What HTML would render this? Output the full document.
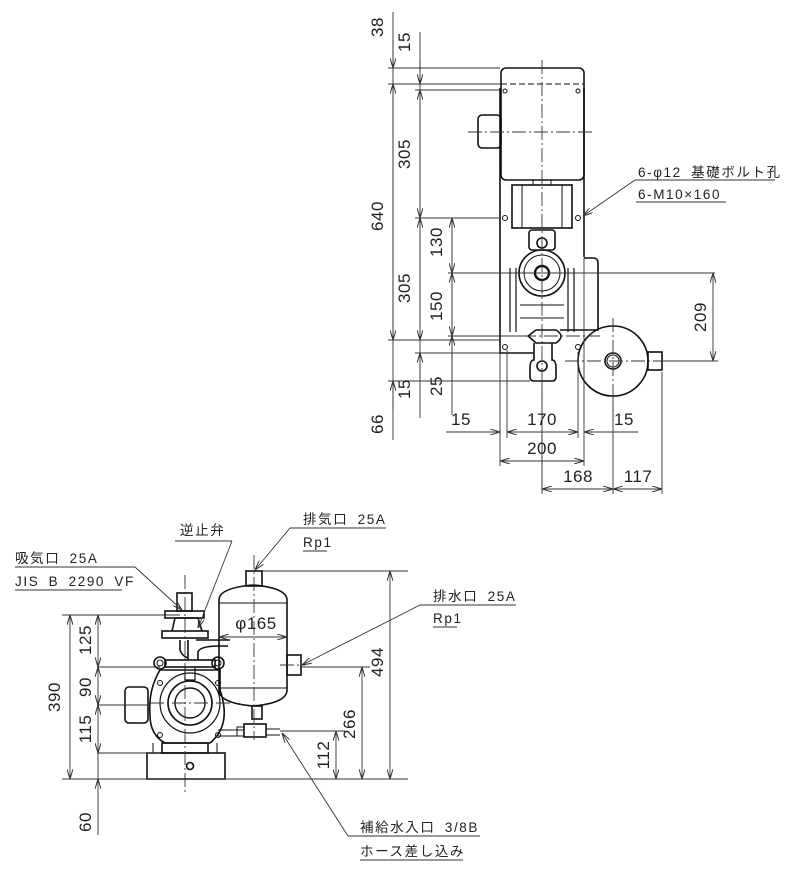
<!DOCTYPE html>
<html><head><meta charset="utf-8"><style>
html,body{margin:0;padding:0;background:#fff}
svg{display:block}
text{font-family:"Liberation Sans","Noto Sans CJK JP",sans-serif;fill:#222}
.d{font-size:17px;letter-spacing:0.5px}
.l{font-size:13.5px;letter-spacing:1.6px;word-spacing:4px}
</style></head><body>
<svg width="800" height="887" viewBox="0 0 800 887" xmlns="http://www.w3.org/2000/svg">
<defs>
<marker id="a" viewBox="0 0 10 6" refX="10" refY="3" markerWidth="10" markerHeight="6" orient="auto-start-reverse" markerUnits="userSpaceOnUse"><path d="M0,0 L10,3 L0,6" fill="none" stroke="#333" stroke-width="1"/></marker>
</defs>
<g fill="none" stroke="#111" stroke-width="1.6">
<rect x="501" y="68" width="83" height="112" rx="5"/>
<line x1="501" y1="84" x2="584" y2="84" stroke-dasharray="6,3" stroke-width="1"/>
<rect x="478" y="115" width="23" height="33" rx="4"/>
<path d="M500,88 V353 H534 M584,88 V257"/>
<rect x="512" y="185" width="60" height="43"/>
<line x1="522" y1="185" x2="522" y2="228" stroke-width="1"/><line x1="562" y1="185" x2="562" y2="228" stroke-width="1"/>
<rect x="533" y="180" width="18" height="5" stroke-width="1"/>
<rect x="529" y="230" width="26" height="20" rx="3"/>
<circle cx="542" cy="243" r="5"/>
<circle cx="542" cy="273" r="23"/><circle cx="542" cy="273" r="18" stroke-width="1"/>
<circle cx="542" cy="273" r="7" stroke-width="2.4"/>
<path d="M510,268 V332 M516,268 V332 M568,268 V332 M574,268 V332" stroke-width="1.2"/>
<path d="M520,305 H564 M520,318 H564" stroke-width="1"/>
<path d="M584,258 H593 Q598,258 598,263 V330 H560" stroke-width="1.6"/>
<path d="M528,336 L536,330 H556 Q566,336 556,343 H536 Z"/>
<path d="M534,343 V360 Q530,360 530,368 V377 Q530,381 534,381 H552 Q556,381 556,377 V368 Q556,360 552,360 V343"/>
<circle cx="542" cy="366" r="5"/>
<circle cx="505" cy="218" r="2.5" stroke-width="1"/><circle cx="578" cy="218" r="2.5" stroke-width="1"/>
<circle cx="505" cy="347" r="2.5" stroke-width="1"/><circle cx="578" cy="347" r="2.5" stroke-width="1"/>
<circle cx="505" cy="91" r="2" stroke-width="1"/><circle cx="578" cy="91" r="2" stroke-width="1"/>
<circle cx="613" cy="361" r="35"/><circle cx="613" cy="361" r="8"/><circle cx="613" cy="361" r="6" stroke-width="1"/>
<rect x="648" y="352" width="14" height="18"/>
</g>
<g stroke="#333" stroke-width="0.9" stroke-dasharray="14,3,2,3" fill="none">
<line x1="542" y1="60" x2="542" y2="495"/>
<line x1="468" y1="132" x2="592" y2="132"/>
<line x1="613" y1="318" x2="613" y2="420"/>
<line x1="565" y1="361" x2="670" y2="361"/>
<line x1="500" y1="336" x2="600" y2="336"/>
</g>
<g stroke="#333" stroke-width="0.9" fill="none">
<path d="M388,68 H500 M388,84 H501 M415,90 H500 M415,218 H500 M448,273 H715 M448,336 H528 M388,340 H500 M415,353 H500 M388,381 H530"/>
<line x1="393" y1="12" x2="393" y2="440"/>
<line x1="420" y1="32" x2="420" y2="418"/>
<line x1="452" y1="218" x2="452" y2="415"/>
<path d="M500,345 V466 M507,350 V438 M578,352 V438 M584,258 V466 M542,380 V494 M613,396 V494 M662,372 V494"/>
<line x1="393" y1="40" x2="393" y2="68" marker-end="url(#a)"/>
<line x1="393" y1="84" x2="393" y2="340" marker-start="url(#a)" marker-end="url(#a)"/>
<line x1="393" y1="381" x2="393" y2="410" marker-start="url(#a)"/>
<line x1="420" y1="60" x2="420" y2="84" marker-end="url(#a)"/>
<line x1="420" y1="90" x2="420" y2="218" marker-start="url(#a)" marker-end="url(#a)"/>
<line x1="420" y1="218" x2="420" y2="340" marker-start="url(#a)" marker-end="url(#a)"/>
<line x1="420" y1="353" x2="420" y2="380" marker-start="url(#a)"/>
<line x1="452" y1="218" x2="452" y2="273" marker-start="url(#a)" marker-end="url(#a)"/>
<line x1="452" y1="273" x2="452" y2="336" marker-start="url(#a)" marker-end="url(#a)"/>
<line x1="452" y1="336" x2="452" y2="381" marker-start="url(#a)"/>
<line x1="446" y1="432" x2="500" y2="432" marker-end="url(#a)"/>
<line x1="507" y1="432" x2="578" y2="432" marker-start="url(#a)" marker-end="url(#a)"/>
<line x1="584" y1="432" x2="638" y2="432" marker-start="url(#a)"/>
<line x1="500" y1="461" x2="584" y2="461" marker-start="url(#a)" marker-end="url(#a)"/>
<line x1="542" y1="489" x2="613" y2="489" marker-start="url(#a)" marker-end="url(#a)"/>
<line x1="613" y1="489" x2="662" y2="489" marker-start="url(#a)" marker-end="url(#a)"/>
<path d="M662,361 H718"/>
<line x1="713" y1="273" x2="713" y2="361" marker-start="url(#a)" marker-end="url(#a)"/>
<path d="M775,180 H635"/><line x1="635" y1="180" x2="583" y2="216" marker-end="url(#a)"/>
<path d="M636,202 H726"/>
</g>
<g class="d">
<text transform="translate(383,27) rotate(-90)" text-anchor="middle">38</text>
<text transform="translate(410,42) rotate(-90)" text-anchor="middle">15</text>
<text transform="translate(410,154) rotate(-90)" text-anchor="middle">305</text>
<text transform="translate(383,216) rotate(-90)" text-anchor="middle">640</text>
<text transform="translate(442,242) rotate(-90)" text-anchor="middle">130</text>
<text transform="translate(410,288) rotate(-90)" text-anchor="middle">305</text>
<text transform="translate(442,306) rotate(-90)" text-anchor="middle">150</text>
<text transform="translate(410,389) rotate(-90)" text-anchor="middle">15</text>
<text transform="translate(442,386) rotate(-90)" text-anchor="middle">25</text>
<text transform="translate(383,424) rotate(-90)" text-anchor="middle">66</text>
<text transform="translate(706,317) rotate(-90)" text-anchor="middle">209</text>
<text x="461" y="425" text-anchor="middle">15</text>
<text x="542" y="425" text-anchor="middle">170</text>
<text x="624" y="425" text-anchor="middle">15</text>
<text x="542" y="454" text-anchor="middle">200</text>
<text x="578" y="482" text-anchor="middle">168</text>
<text x="638" y="482" text-anchor="middle">117</text>
</g>
<text class="l" x="638" y="177">6-φ12 基礎ボルト孔</text>
<text class="l" x="638" y="199">6-M10×160</text>

<g fill="none" stroke="#111" stroke-width="1.6">
<rect x="147" y="753" width="78" height="26"/>
<rect x="162" y="743" width="46" height="10"/>
<path d="M153,743 V753 M217,743 V753" stroke-width="1"/>
<circle cx="190" cy="766" r="3.5"/>
<path d="M160,670 H220 V690 Q232,725 210,743 H165 Q150,735 150,715 Q148,690 160,670 Z"/>
<circle cx="190" cy="703" r="30" stroke-width="1.2"/>
<circle cx="190" cy="703" r="22"/>
<circle cx="190" cy="703" r="15" stroke-width="1.4"/>
<rect x="125" y="687" width="23" height="36" rx="4"/>
<circle cx="160" cy="663" r="6"/><circle cx="160" cy="663" r="3" stroke-width="1"/>
<circle cx="218" cy="663" r="6"/><circle cx="218" cy="663" r="3" stroke-width="1"/>
<rect x="165" y="660" width="50" height="7"/>
<path d="M185,667 V680 H195 V667" stroke-width="1.2"/>
<circle cx="160" cy="683" r="2.5" stroke-width="1"/><circle cx="218" cy="683" r="2.5" stroke-width="1"/>
<circle cx="160" cy="735" r="2.5" stroke-width="1"/><circle cx="218" cy="735" r="2.5" stroke-width="1"/>
<path d="M180,640 V650 Q182,656 188,658 V660 M188,640 V660 M198,660 V652 Q200,646 220,646 H228 M196,640 H230"/>
<rect x="162" y="631" width="46" height="7"/>
<path d="M172,631 L175,618 H198 L202,631"/>
<rect x="165" y="611" width="39" height="7"/>
<rect x="177" y="593" width="15" height="18"/>
<path d="M219,600 Q219,588 253,585 Q287,588 287,600 V690 Q287,703 253,706 Q219,703 219,690 Z"/>
<path d="M219,603 H287 M219,688 H287" stroke-width="1"/>
<rect x="246" y="571" width="16" height="15"/>
<rect x="287" y="655" width="14" height="20"/>
<rect x="252" y="706" width="10" height="13"/>
<rect x="244" y="724" width="22" height="13"/>
<path d="M218,730 H244 M218,736 H244 M266,729 H280 M266,735 H280" stroke-width="1.1"/>
<rect x="237" y="727" width="7" height="9" stroke-width="1"/>
</g>
<g stroke="#333" stroke-width="0.9" stroke-dasharray="14,3,2,3" fill="none">
<line x1="185" y1="575" x2="185" y2="795"/>
<line x1="254" y1="555" x2="254" y2="740"/>
<line x1="150" y1="703" x2="232" y2="703"/>
<line x1="280" y1="665" x2="305" y2="665"/>
</g>
<g stroke="#333" stroke-width="0.9" fill="none">
<path d="M62,615 H180 M97,667 H160 M97,705 H150 M97,753 H160 M62,779 H408"/>
<path d="M262,571 H408 M301,667 H370 M280,731 H345"/>
<line x1="70" y1="615" x2="70" y2="779" marker-start="url(#a)" marker-end="url(#a)"/>
<line x1="98" y1="615" x2="98" y2="667" marker-start="url(#a)" marker-end="url(#a)"/>
<line x1="98" y1="667" x2="98" y2="705" marker-start="url(#a)" marker-end="url(#a)"/>
<line x1="98" y1="705" x2="98" y2="753" marker-start="url(#a)" marker-end="url(#a)"/>
<line x1="98" y1="753" x2="98" y2="779"/>
<line x1="98" y1="779" x2="98" y2="835" marker-start="url(#a)"/>
<line x1="336" y1="731" x2="336" y2="779" marker-start="url(#a)" marker-end="url(#a)"/>
<line x1="362" y1="667" x2="362" y2="779" marker-start="url(#a)" marker-end="url(#a)"/>
<line x1="390" y1="571" x2="390" y2="779" marker-start="url(#a)" marker-end="url(#a)"/>
<line x1="219" y1="637" x2="287" y2="637" marker-start="url(#a)" marker-end="url(#a)"/>
<path d="M15,567 H135"/><line x1="135" y1="567" x2="182" y2="610" marker-end="url(#a)"/>
<path d="M15,590 H122"/>
<path d="M175,541 H232"/><line x1="232" y1="541" x2="198" y2="628" marker-end="url(#a)"/>
<path d="M290,528 H386"/><line x1="290" y1="528" x2="255" y2="570" marker-end="url(#a)"/>
<path d="M303,551 H327"/>
<path d="M420,605 H516"/><line x1="420" y1="605" x2="302" y2="665" marker-end="url(#a)"/>
<path d="M433,627 H457"/>
<path d="M348,836 H480"/><line x1="348" y1="836" x2="282" y2="733" marker-end="url(#a)"/>
<path d="M360,860 H463"/>
</g>
<g class="d">
<text transform="translate(60,697) rotate(-90)" text-anchor="middle">390</text>
<text transform="translate(91,640) rotate(-90)" text-anchor="middle">125</text>
<text transform="translate(91,687) rotate(-90)" text-anchor="middle">90</text>
<text transform="translate(91,729) rotate(-90)" text-anchor="middle">115</text>
<text transform="translate(91,822) rotate(-90)" text-anchor="middle">60</text>
<text transform="translate(329,755) rotate(-90)" text-anchor="middle">112</text>
<text transform="translate(355,724) rotate(-90)" text-anchor="middle">266</text>
<text transform="translate(383,662) rotate(-90)" text-anchor="middle">494</text>
<text x="256" y="629" text-anchor="middle">φ165</text>
</g>
<g class="l">
<text x="15" y="563">吸気口 25A</text>
<text x="15" y="586">JIS B 2290 VF</text>
<text x="180" y="535">逆止弁</text>
<text x="303" y="524">排気口 25A</text>
<text x="303" y="547">Rp1</text>
<text x="433" y="601">排水口 25A</text>
<text x="433" y="623">Rp1</text>
<text x="360" y="832">補給水入口 3/8B</text>
<text x="360" y="856">ホース差し込み</text>
</g>
</svg>
</body></html>
